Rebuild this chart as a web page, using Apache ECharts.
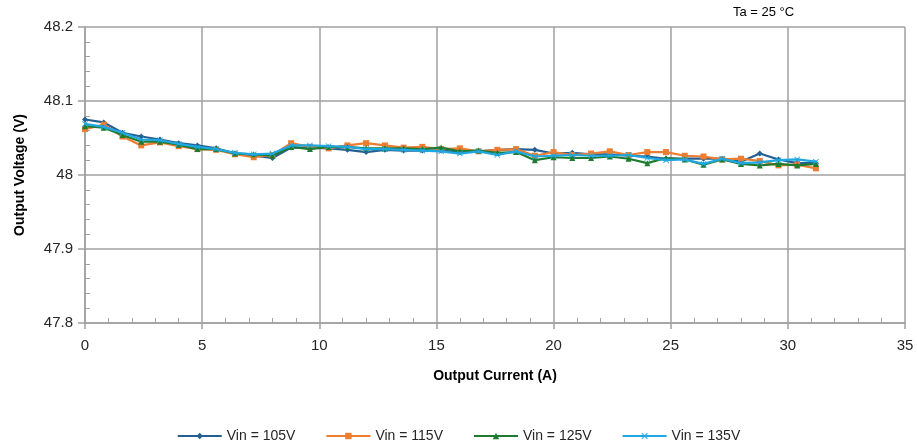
<!DOCTYPE html>
<html>
<head>
<meta charset="utf-8">
<script src="https://cdn.jsdelivr.net/npm/echarts@6/dist/echarts.min.js"></script>
<style>html,body{margin:0;padding:0;background:#fff}#c{width:917px;height:444px}</style>
</head>
<body>
<div id="c"></div>
<script>
var current = [0,0.8,1.6,2.4,3.2,4.0,4.8,5.6,6.4,7.2,8.0,8.8,9.6,10.4,11.2,12.0,12.8,13.6,14.4,15.2,16.0,16.8,17.6,18.4,19.2,20.0,20.8,21.6,22.4,23.2,24.0,24.8,25.6,26.4,27.2,28.0,28.8,29.6,30.4,31.2];
var vin105 = [48.075,48.071,48.057,48.052,48.048,48.043,48.040,48.036,48.029,48.026,48.023,48.037,48.037,48.036,48.034,48.031,48.034,48.033,48.033,48.033,48.031,48.032,48.034,48.035,48.034,48.029,48.030,48.028,48.028,48.026,48.025,48.022,48.022,48.022,48.022,48.018,48.029,48.021,48.016,48.016];
var vin115 = [48.062,48.068,48.052,48.040,48.044,48.039,48.035,48.034,48.028,48.024,48.027,48.043,48.038,48.036,48.040,48.043,48.040,48.037,48.038,48.035,48.036,48.032,48.034,48.035,48.026,48.031,48.027,48.029,48.032,48.027,48.031,48.031,48.026,48.025,48.021,48.022,48.019,48.013,48.014,48.009];
var vin125 = [48.066,48.064,48.054,48.045,48.045,48.041,48.035,48.035,48.029,48.028,48.026,48.038,48.035,48.038,48.038,48.036,48.036,48.036,48.035,48.037,48.032,48.033,48.030,48.031,48.020,48.024,48.023,48.023,48.025,48.022,48.016,48.023,48.021,48.014,48.021,48.015,48.013,48.015,48.013,48.015];
var vin135 = [48.069,48.065,48.057,48.048,48.047,48.042,48.038,48.035,48.030,48.028,48.029,48.040,48.040,48.039,48.038,48.035,48.035,48.034,48.033,48.032,48.029,48.032,48.027,48.032,48.025,48.026,48.027,48.026,48.026,48.027,48.023,48.020,48.021,48.015,48.022,48.016,48.017,48.020,48.021,48.018];
var seriesNames = ['Vin = 105V','Vin = 115V','Vin = 125V','Vin = 135V'];
var xTicks = [0,5,10,15,20,25,30,35];
var yTicks = [47.8,47.9,48,48.1,48.2];

var colors = ['#255E91','#ED7D31','#1E7B30','#1FA7E1'];
var symbols = ['diamond','rect','triangle','path://M1,0 L5,4 L9,0 L10,1 L6,5 L10,9 L9,10 L5,6 L1,10 L0,9 L4,5 L0,1 Z'];
var sizes = [6,6,6,6];
var all = [vin105, vin115, vin125, vin135];

function pairs(arr){ return arr.map(function(v,i){ return [current[i], v]; }); }

var chart = echarts.init(document.getElementById('c'));
var font = 'Liberation Sans, Arial, sans-serif';
chart.setOption({
  animation: false,
  color: colors,
  textStyle: {fontFamily: font},
  grid: {left: 85, right: 12, top: 27, bottom: 121, containLabel: false},
  xAxis: {
    type: 'value', min: xTicks[0], max: xTicks[xTicks.length-1], interval: 5,
    name: 'Output Current (A)', nameLocation: 'middle', nameGap: 46,
    nameTextStyle: {fontWeight: 'bold', fontSize: 14, color: '#000', fontFamily: font},
    axisLine: {show: true, lineStyle: {color: '#A0A0A0', width: 1.5}},
    axisTick: {show: true, length: 6, lineStyle: {color: '#A0A0A0', width: 1.5}},
    minorTick: {show: true, splitNumber: 5, length: -5, lineStyle: {color: '#A0A0A0', width: 1}},
    axisLabel: {fontSize: 15, color: '#262626', margin: 15, fontFamily: font},
    splitLine: {show: true, lineStyle: {color: '#A0A0A0', width: 1.5}}
  },
  yAxis: {
    type: 'value', min: yTicks[0], max: yTicks[yTicks.length-1], interval: 0.1,
    name: 'Output Voltage (V)', nameLocation: 'middle', nameGap: 58,
    nameTextStyle: {fontWeight: 'bold', fontSize: 14, color: '#000', fontFamily: font},
    axisLine: {show: true, lineStyle: {color: '#A0A0A0', width: 1.5}},
    axisTick: {show: true, length: 7, lineStyle: {color: '#A0A0A0', width: 1.5}},
    minorTick: {show: true, splitNumber: 5, length: -5, lineStyle: {color: '#A0A0A0', width: 1}},
    axisLabel: {fontSize: 15, color: '#262626', margin: 12, fontFamily: font,
      formatter: function(v){ return String(Math.round(v*10)/10); }},
    splitLine: {show: true, lineStyle: {color: '#A0A0A0', width: 1.5}}
  },
  legend: {
    top: 424, left: 'center', itemWidth: 44, itemHeight: 8, itemGap: 30,
    textStyle: {fontSize: 14, color: '#262626', fontFamily: font},
    data: seriesNames
  },
  graphic: [{
    type: 'text', left: 733, top: 6,
    style: {text: 'Ta = 25 °C', fontSize: 13, fill: '#000', fontFamily: font}
  }],
  series: all.map(function(arr, k){
    return {
      name: seriesNames[k], type: 'line', data: pairs(arr),
      symbol: symbols[k], symbolSize: sizes[k], showSymbol: true,
      lineStyle: {width: 2.2, color: colors[k]},
      itemStyle: {color: colors[k]},
      z: 2 + k
    };
  })
});
</script>
</body>
</html>
